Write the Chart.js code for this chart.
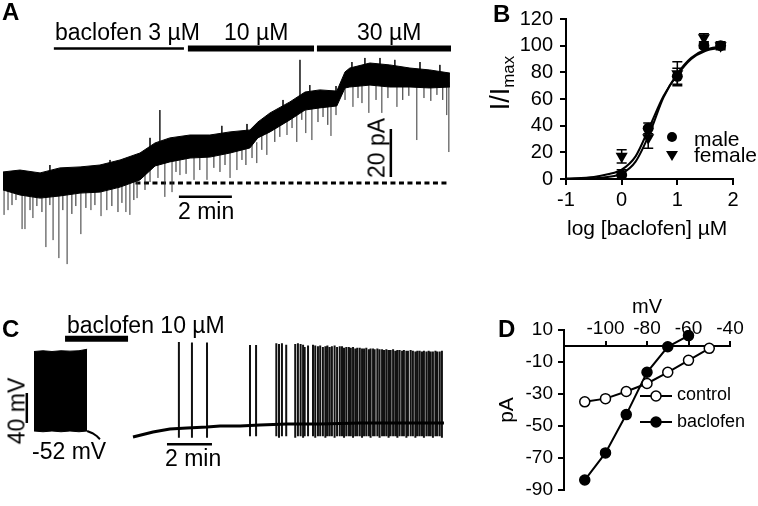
<!DOCTYPE html>
<html>
<head>
<meta charset="utf-8">
<script src="https://cdn.jsdelivr.net/npm/chart.js@4.4.0/dist/chart.umd.min.js"></script>
<style>
  body { margin: 0; background: #fff; }
  #fig { position: relative; width: 758px; height: 506px; overflow: hidden; font-family: 'Liberation Sans', Arial, sans-serif; color: #000; }
  #fig canvas { position: absolute; }
  .t { position: absolute; white-space: nowrap; line-height: 1; }
  .big { font-size: 23px; }
  .letter { font-size: 24px; font-weight: bold; }
  .rot { transform: translate(-50%, -50%) rotate(-90deg); }
</style>
</head>
<body>
<div id="fig">
  <canvas id="chartA" width="460" height="270" style="left:0;top:0"></canvas>
  <canvas id="chartB" width="298" height="270" style="left:460px;top:0"></canvas>
  <canvas id="chartC" width="470" height="236" style="left:0;top:270px"></canvas>
  <canvas id="chartD" width="288" height="236" style="left:470px;top:270px"></canvas>

  <!-- panel A -->
  <div class="t letter" style="left:2px;top:0px">A</div>
  <div class="t big" style="left:55px;top:21px">baclofen 3 µM</div>
  <div class="t big" style="left:224px;top:21px">10 µM</div>
  <div class="t big" style="left:357px;top:21px">30 µM</div>
  <div class="t big" style="left:178px;top:200px">2 min</div>
  <div class="t big rot" style="left:377px;top:148px">20 pA</div>

  <!-- panel B -->
  <div class="t letter" style="left:493px;top:2px">B</div>
  <div class="t rot" style="left:500px;top:83px;font-size:27px">I/I<span style="font-size:17px;position:relative;top:5px">max</span></div>
  <div class="t" style="left:567px;top:217px;font-size:21px">log [baclofen] µM</div>
  <div class="t" style="left:694px;top:128px;font-size:21px">male</div>
  <div class="t" style="left:694px;top:144px;font-size:21px">female</div>

  <!-- panel C -->
  <div class="t letter" style="left:2px;top:317px">C</div>
  <div class="t big" style="left:67px;top:314px">baclofen 10 µM</div>
  <div class="t big" style="left:32px;top:440px">-52 mV</div>
  <div class="t big" style="left:165px;top:447px">2 min</div>
  <div class="t big rot" style="left:17px;top:411px">40 mV</div>

  <!-- panel D -->
  <div class="t letter" style="left:498px;top:317px">D</div>
  <div class="t" style="left:632px;top:296px;font-size:20px">mV</div>
  <div class="t rot" style="left:505px;top:410px;font-size:21px">pA</div>
  <div class="t" style="left:677px;top:385px;font-size:18px">control</div>
  <div class="t" style="left:677px;top:412px;font-size:18px">baclofen</div>
</div>

<script>
// ---- A: holding current trace (time in min, current in pA) ----
const aTime   = [0, 0.64, 1.40, 2.15, 2.91, 3.66, 4.42, 5.17, 5.74, 6.30, 7.06, 7.81, 8.57, 9.32, 9.62, 10.08, 10.83, 11.40, 11.96, 12.60, 12.91, 13.09, 13.85, 14.60, 15.36, 16.11, 16.87];
const aTop    = [4.6, 5.4, 4.2, 6.3, 6.7, 7.5, 9.6, 12.5, 16.7, 18.8, 20.0, 20.0, 21.3, 22.1, 25.4, 29.2, 33.8, 37.9, 38.8, 38.3, 46.3, 47.9, 50.0, 49.2, 47.9, 47.1, 45.8];
const aBottom = [-2.9, -5.0, -6.3, -5.4, -4.2, -3.8, -1.7, 1.3, 7.1, 8.8, 10.4, 10.8, 12.5, 14.6, 18.8, 21.3, 26.3, 30.4, 31.3, 32.1, 39.6, 40.0, 40.8, 40.0, 40.0, 39.6, 40.0];
// large synaptic events
const aSpikeTime = [0.04, 0.19, 0.72, 0.83, 1.13, 1.62, 1.89, 2.11, 2.42, 2.94, 3.32, 3.70, 3.92, 4.64, 4.79, 5.06, 5.85, 5.92, 6.11, 6.38, 6.68, 7.21, 7.70, 8.57, 8.83, 9.58, 9.96, 10.72, 11.09, 11.21, 11.43, 11.66, 12.38, 13.21, 13.81, 14.30, 14.87, 15.62, 16.75, 16.83];
const aSpikeTip  = [-13.3, -11.3, -19.2, -19.2, -14.6, -26.7, -23.8, -31.3, -33.8, -21.3, -11.3, -13.8, -11.3, -12.1, -13.3, -6.3, 2.1, 30.4, -5.8, -3.8, 3.3, 1.3, 1.3, 2.1, 5.4, 8.3, 11.7, 20.0, 17.1, 51.3, 20.8, 17.9, 19.6, 31.7, 29.2, 29.2, 31.7, 17.9, 28.3, 12.9];
const aSpikeBase = [0, 0, -2, -2, -2, -3, -3, -3, -3, -2, -1, -1, -1, 1, 1, 3, 8, 12, 9, 10, 11, 12, 12, 14, 14, 17, 22, 28, 31, 35, 32, 33, 33, 42, 42, 42, 42, 42, 42, 42];
// small noise excursions at the edges of the trace
const aNoiseTime = [0.34, 0.49, 1.02, 1.28, 1.47, 1.77, 2.26, 2.60, 2.75, 3.13, 3.47, 4.11, 4.34, 4.49, 4.94, 5.36, 5.55, 6.53, 6.91, 7.43, 7.96, 8.19, 8.38, 9.02, 9.17, 9.40, 9.77, 10.26, 10.45, 10.91, 11.28, 11.89, 12.08, 12.26, 12.57, 12.91, 13.40, 13.55, 14.08, 14.53, 15.09, 15.32, 15.89, 16.15, 16.38, 16.60,
  1.77, 4.04, 5.55, 8.26, 9.21, 10.57, 11.58, 12.57, 13.17, 13.66, 14.23, 14.79, 15.74, 16.49];
const aNoiseTip  = [-9.2, -7.1, -11.3, -9.6, -12.1, -9.2, -11.3, -12.9, -9.6, -10.4, -9.2, -9.6, -12.1, -8.3, -7.1, -2.9, 0.4, 4.6, 3.8, 5.4, 6.3, 4.6, 7.5, 9.6, 7.5, 10.4, 13.8, 17.1, 19.2, 22.9, 26.3, 25.4, 27.5, 24.2, 28.3, 34.6, 35.4, 33.3, 34.6, 35.4, 34.6, 36.3, 35.4, 34.2, 36.7, 34.6,
  7.5, 9.6, 18.8, 23.8, 24.6, 34.6, 40.8, 40.4, 50.4, 52.1, 52.1, 51.3, 50.4, 49.2];
const aNoiseBase = [0, 0, -1, -1, -1, -1, -1, -1, -1, 0, 0, 1, 2, 2, 4, 6, 7, 12, 13, 14, 14, 15, 15, 16, 17, 17, 21, 24, 26, 29, 33, 34, 34, 34, 35, 42, 43, 43, 43, 43, 43, 43, 43, 43, 43, 43,
  0, 3, 12, 17, 18, 27, 34, 35, 44, 45, 45, 45, 45, 44];
const drugStart = [1.92, 6.98, 11.85];   // 3, 10, 30 µM
const drugEnd   = [6.83, 11.74, 16.91];
const drugLevel = 56;
const baselineA = [5.0, 16.75];          // dotted zero-current line
const timeBarA  = [6.64, 8.64];          // 2 min
const timeBarLevelA = -5.7;
const ampBarA   = [2.5, 22.5];           // 20 pA
const ampBarTimeA = 14.64;

// ---- B: concentration-response ----
const logConc    = [0, 0.477, 1, 1.477, 1.778];
const maleMean   = [3, 38, 77, 100, 100];
const maleErr    = [4, 4, 6, 2, 2];
const femaleMean = [17, 31, 79, 106, 100];
const femaleErr  = [5, 8, 9, 3, 3];
const fitLogConc = [-1, -0.5, -0.25, 0, 0.25, 0.5, 0.75, 1, 1.25, 1.5, 1.8];
const maleFit    = [0.3, 1.5, 3.5, 7, 17, 39, 62, 78, 90, 96, 98.5];
const femaleFit  = [0, 0.5, 1.5, 4, 13, 34, 61, 79, 91, 97, 99.5];

// ---- C: membrane potential trace (time in min, mV) ----
const cCtrlTime   = [0, 0.4, 0.8, 1.2, 1.6, 2.0, 2.36];
const cCtrlTop    = [54, 55, 54, 55, 54.5, 55, 57];
const cCtrlBottom = [-52, -53, -52, -53, -52, -53, -52];
const cDecayTime  = [2.36, 2.6, 2.8, 2.93];
const cDecayV     = [-52, -55, -59, -63];
const cBacTime    = [4.40, 5.29, 6.04, 6.80, 7.69, 8.27, 9.16, 10.04, 11.24, 12.71, 14.49, 16.27, 18.22];
const cBacV       = [-60, -53.3, -49.3, -48, -46.7, -45.3, -45.3, -44, -42.7, -42.7, -41.3, -41.3, -41.3];
const cSpikeTime = [6.44, 7.02, 7.69, 9.60, 9.87,
  10.77, 10.89, 11.02, 11.21, 11.61, 11.73, 11.85, 11.96, 12.03, 12.18,
  12.40, 12.50, 12.62, 12.72, 12.84, 12.95, 13.04, 13.14, 13.24, 13.36,
  13.47, 13.59, 13.69, 13.78, 13.88, 13.99, 14.08, 14.18, 14.28, 14.37,
  14.48, 14.58, 14.67, 14.77, 14.88, 14.96, 15.07, 15.14, 15.26, 15.36,
  15.47, 15.56, 15.66, 15.76, 15.85, 15.96, 16.06, 16.15, 16.25, 16.36,
  16.44, 16.55, 16.62, 16.74, 16.84, 16.95, 17.04, 17.14, 17.24, 17.33,
  17.44, 17.54, 17.63, 17.73, 17.84, 17.92, 18.03, 18.13];
const cSpikePeak = [66.7, 66, 66, 62.7, 62.7,
  65, 64, 65, 63, 64, 65, 64, 63, 60, 62,
  63, 62, 61, 62, 60, 61, 62, 60, 61, 62,
  60, 61, 61, 59, 60, 60, 59, 60, 58, 59,
  59, 58, 58, 59, 57, 58, 58, 57, 58, 57,
  57, 56, 57, 56, 56, 57, 55, 56, 56, 55,
  56, 55, 55, 56, 55, 54, 55, 55, 54, 55,
  54, 55, 54, 54, 55, 54, 54, 55];
const cSpikeTrough = [-61, -61, -61, -59, -59,
  -59, -61, -59, -59, -61, -59, -59, -61, -59, -59,
  -59, -61, -59, -59, -59, -61, -59, -59, -59, -61,
  -59, -59, -59, -61, -59, -59, -59, -61, -59, -59,
  -59, -61, -59, -59, -59, -61, -59, -59, -59, -61,
  -59, -59, -59, -61, -59, -59, -59, -61, -59, -59,
  -59, -61, -59, -59, -59, -61, -59, -59, -59, -61,
  -59, -59, -59, -61, -59, -59, -59, -61];
const bacBarC   = [1.38, 4.18];
const bacLevelC = 71;
const timeBarC  = [5.91, 7.91];
const timeBarLevelC = -69.8;
const ampBarC   = [-41.3, -1.3];         // 40 mV
const ampBarTimeC = -0.32;

// ---- D: current-voltage relation ----
const ivVoltage   = [-110, -100, -90, -80, -70, -60, -50];
const ctrlCurrent = [-35, -33, -28.5, -23.5, -16.5, -9, -1.5];
const bacVoltage  = [-110, -100, -90, -80, -70, -60];
const bacCurrent  = [-84, -67, -43, -16.5, -0.5, 6.5];

Chart.defaults.font.family = "'Liberation Sans', Arial, sans-serif";
Chart.defaults.color = '#000';

function pts(xs, ys) {
  return xs.map((x, i) => ({ x: x, y: ys[i] }));
}
// vertical strokes from a[i] to b[i], separated by gaps
function strokes(xs, a, b) {
  const out = [];
  xs.forEach((x, i) => { out.push({ x: x, y: a[i] }, { x: x, y: b[i] }, { x: x, y: null }); });
  return out;
}
function hbar(x0, x1, y) {
  return [{ x: x0, y: y }, { x: x1, y: y }];
}
function errorBars(xs, mean, err, cap) {
  const out = [];
  xs.forEach((x, i) => {
    const lo = mean[i] - err[i], hi = mean[i] + err[i];
    out.push({ x: x, y: lo }, { x: x, y: hi }, { x: x, y: null });
    out.push({ x: x - cap, y: lo }, { x: x + cap, y: lo }, { x: x, y: null });
    out.push({ x: x - cap, y: hi }, { x: x + cap, y: hi }, { x: x, y: null });
  });
  return out;
}
function line(data, width, extra) {
  return Object.assign({ data: data, borderColor: '#000', backgroundColor: '#000', borderWidth: width, pointRadius: 0, fill: false }, extra || {});
}
function traceOptions(xMin, xMax, yMin, yMax) {
  return {
    responsive: false,
    animation: false,
    layout: { padding: 0 },
    plugins: { legend: { display: false }, tooltip: { enabled: false } },
    elements: { point: { radius: 0 }, line: { tension: 0 } },
    scales: {
      x: { type: 'linear', display: false, min: xMin, max: xMax },
      y: { type: 'linear', display: false, min: yMin, max: yMax }
    }
  };
}
function axisStyle(tickLen) {
  return {
    grid: { drawOnChartArea: false, drawTicks: true, tickLength: tickLen, color: '#000', lineWidth: 2 },
    border: { display: true, color: '#000', width: 2 }
  };
}

// Panel A
const dsA = [
  line(pts(aTime, aTop), 1, { fill: '+1' }),
  line(pts(aTime, aBottom), 1),
  line(strokes(aSpikeTime, aSpikeTip, aSpikeBase), 1, { borderColor: '#333' }),
  line(strokes(aNoiseTime, aNoiseTip, aNoiseBase), 1, { borderColor: '#222' }),
  line(hbar(baselineA[0], baselineA[1], 0), 3, { borderDash: [5, 3.5] }),
  line(hbar(timeBarA[0], timeBarA[1], timeBarLevelA), 2.5),
  line(strokes([ampBarTimeA], [ampBarA[0]], [ampBarA[1]]), 2.5)
];
drugStart.forEach((s, i) => dsA.push(line(hbar(s, drugEnd[i], drugLevel), i === 0 ? 2.5 : 6)));
new Chart(document.getElementById('chartA'), {
  type: 'line',
  data: { datasets: dsA },
  options: traceOptions(-0.113, 17.25, -36.25, 76.25)
});

// Panel B
const legendB = {
  id: 'legendB',
  afterDraw(chart) {
    const ctx = chart.ctx;
    ctx.save();
    ctx.fillStyle = '#000';
    ctx.beginPath(); ctx.arc(212, 137, 5, 0, Math.PI * 2); ctx.fill();
    ctx.beginPath(); ctx.moveTo(206, 151); ctx.lineTo(218, 151); ctx.lineTo(212, 161); ctx.closePath(); ctx.fill();
    ctx.restore();
  }
};
new Chart(document.getElementById('chartB'), {
  type: 'line',
  data: {
    datasets: [
      line(pts(logConc, maleMean), 0, { showLine: false, pointRadius: 5.5, pointStyle: 'circle', pointBackgroundColor: '#000', pointBorderColor: '#000' }),
      line(pts(logConc, femaleMean), 0, { showLine: false, pointRadius: 7, pointStyle: 'triangle', pointRotation: 180, pointBackgroundColor: '#000', pointBorderColor: '#000' }),
      line(errorBars(logConc, maleMean, maleErr, 0.09), 1.5),
      line(errorBars(logConc, femaleMean, femaleErr, 0.09), 1.5),
      line(pts(fitLogConc, maleFit), 2, { cubicInterpolationMode: 'monotone' }),
      line(pts(fitLogConc, femaleFit), 2, { cubicInterpolationMode: 'monotone' })
    ]
  },
  options: {
    responsive: false,
    animation: false,
    layout: { padding: { top: 13, right: 25, bottom: 0, left: 0 } },
    plugins: { legend: { display: false }, tooltip: { enabled: false } },
    scales: {
      x: Object.assign(axisStyle(6), {
        type: 'linear', min: -1, max: 2,
        ticks: { stepSize: 1, font: { size: 20 }, padding: 3 },
        afterFit(s) { s.height = 91; }
      }),
      y: Object.assign(axisStyle(6), {
        type: 'linear', min: 0, max: 120,
        ticks: { stepSize: 20, font: { size: 20 }, padding: 7, autoSkip: false },
        afterFit(s) { s.width = 106; }
      })
    }
  },
  plugins: [legendB]
});

// Panel C
const dsC = [
  line(pts(cCtrlTime, cCtrlTop), 1, { fill: '+1' }),
  line(pts(cCtrlTime, cCtrlBottom), 1),
  line(pts(cDecayTime, cDecayV), 2),
  line(pts(cBacTime, cBacV), 3),
  line(strokes(cSpikeTime, cSpikeTrough, cSpikePeak), 2, { borderColor: '#111' }),
  line(hbar(bacBarC[0], bacBarC[1], bacLevelC), 6),
  line(hbar(timeBarC[0], timeBarC[1], timeBarLevelC), 2.5),
  line(strokes([ampBarTimeC], [ampBarC[0]], [ampBarC[1]]), 2.5)
];
new Chart(document.getElementById('chartC'), {
  type: 'line',
  data: { datasets: dsC },
  options: traceOptions(-1.511, 19.378, -152, 162.67)
});

// Panel D
const legendD = {
  id: 'legendD',
  afterDraw(chart) {
    const ctx = chart.ctx;
    ctx.save();
    ctx.strokeStyle = '#000';
    ctx.lineWidth = 2;
    [[126, '#fff'], [152, '#000']].forEach(([y, fill]) => {
      ctx.beginPath(); ctx.moveTo(170, y); ctx.lineTo(202, y); ctx.stroke();
      ctx.beginPath(); ctx.arc(186, y, 5, 0, Math.PI * 2);
      ctx.fillStyle = fill; ctx.fill();
      ctx.lineWidth = 1.5; ctx.stroke(); ctx.lineWidth = 2;
    });
    ctx.restore();
  }
};
new Chart(document.getElementById('chartD'), {
  type: 'line',
  data: {
    datasets: [
      line(pts(ivVoltage, ctrlCurrent), 2, { pointRadius: 5, pointBackgroundColor: '#fff', pointBorderColor: '#000', pointBorderWidth: 1.5 }),
      line(pts(bacVoltage, bacCurrent), 2, { pointRadius: 5, pointBackgroundColor: '#000', pointBorderColor: '#000', pointBorderWidth: 1.5 })
    ]
  },
  options: {
    responsive: false,
    animation: false,
    layout: { padding: { top: 60, right: 28, bottom: 15, left: 0 } },
    plugins: { legend: { display: false }, tooltip: { enabled: false } },
    scales: {
      x: Object.assign(axisStyle(-6), {
        type: 'linear', min: -120, max: -40, position: { y: 0 },
        ticks: { stepSize: 20, font: { size: 19 }, padding: -22.8, maxRotation: 0, minRotation: 0, autoSkip: false,
                 callback: v => v === -120 ? '' : v },
        afterFit(s) { s.height = 0; }
      }),
      y: Object.assign(axisStyle(6), {
        type: 'linear', min: -90, max: 10,
        ticks: { stepSize: 20, font: { size: 19 }, padding: 5, autoSkip: false },
        afterFit(s) { s.width = 94; }
      })
    }
  },
  plugins: [legendD]
});
</script>
</body>
</html>
